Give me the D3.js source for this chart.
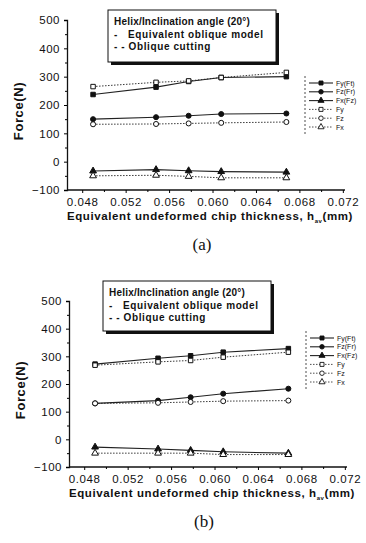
<!DOCTYPE html>
<html><head><meta charset="utf-8">
<script src="https://cdn.jsdelivr.net/npm/d3@7"></script>
<style>
html,body{margin:0;padding:0;background:#fff;}
svg{display:block;font-family:"Liberation Sans",Arial,sans-serif;}
</style></head>
<body>
<svg id="c" width="366" height="543"></svg>
<script>
// ---- data ----
const xValues = [0.049, 0.0548, 0.0578, 0.0608, 0.0668];
const seriesNames = ["Fy(Ft)", "Fz(Fr)", "Fx(Fz)", "Fy", "Fz", "Fx"];
const xTicks = [0.048, 0.052, 0.056, 0.060, 0.064, 0.068, 0.072];
const yTicks = [-100, 0, 100, 200, 300, 400, 500];
// panel (a)
const a_FyFt = [237, 263, 283, 297, 300];
const a_FzFr = [150, 157, 162, 168, 170];
const a_FxFz = [-33, -28, -32, -35, -37];
const a_Fy = [265, 280, 285, 297, 315];
const a_Fz = [132, 133, 135, 137, 140];
const a_Fx = [-50, -48, -52, -57, -57];
// panel (b)
const b_FyFt = [272, 293, 302, 315, 328];
const b_FzFr = [130, 140, 152, 165, 183];
const b_FxFz = [-28, -35, -40, -45, -50];
const b_Fy = [268, 280, 285, 297, 315];
const b_Fz = [130, 132, 135, 138, 140];
const b_Fx = [-50, -50, -50, -55, -55];

const legendTitle = "Helix/Inclination angle (20°)";
const legendLine1 = "-   Equivalent oblique model";
const legendLine2 = "- - Oblique cutting";
const xTitle = "Equivalent undeformed chip thickness, h";
const xTitleSub = "av";
const xTitleEnd = "(mm)";
const yTitle = "Force(N)";

const svg = d3.select("#c");
const markers = ["square", "circle", "triangle", "square", "circle", "triangle"];
const filled = [true, true, true, false, false, false];

function symbolPath(type, size) {
  const t = type === "square" ? d3.symbolSquare : type === "circle" ? d3.symbolCircle : d3.symbolTriangle;
  return d3.symbol().type(t).size(size)();
}

function drawPanel(cfg) {
  const g = svg.append("g");
  const x = d3.scaleLinear().domain([0.0466, 0.0722]).range([cfg.left, cfg.right]);
  const y = d3.scaleLinear().domain([-100, 500]).range([cfg.bottom, cfg.top]);

  const yAxis = d3.axisLeft(y).tickValues(yTicks).tickSize(3).tickFormat(d3.format("d"));
  const yg = g.append("g").attr("transform", `translate(${cfg.left},0)`).call(yAxis);
  yg.select(".domain").attr("stroke", "#111").attr("stroke-width", 1.3);
  yg.selectAll("text").attr("font-size", 11.5).attr("fill", "#111").attr("dx", -1).style("letter-spacing", "0.5px");
  g.append("g").attr("transform", `translate(${cfg.left},0)`)
    .call(d3.axisLeft(y).tickValues(d3.range(-50, 500, 100)).tickSize(2).tickFormat(""))
    .select(".domain").remove();

  const xAxis = d3.axisBottom(x).tickValues(xTicks).tickSize(3).tickFormat(d3.format(".3f"));
  const xg = g.append("g").attr("transform", `translate(0,${cfg.bottom})`).call(xAxis);
  xg.select(".domain").attr("stroke", "#111").attr("stroke-width", 1.3).attr("d", `M${cfg.left},0H${cfg.right}`);
  xg.selectAll("text").attr("font-size", 11.5).attr("fill", "#111").attr("dy", "0.9em").style("letter-spacing", "0.6px");
  g.append("g").attr("transform", `translate(0,${cfg.bottom})`)
    .call(d3.axisBottom(x).tickValues(d3.range(0.050, 0.071, 0.004)).tickSize(2).tickFormat(""))
    .select(".domain").remove();

  const xt = g.append("text").attr("x", (cfg.left + cfg.right) / 2 + 4).attr("y", cfg.bottom + 30)
    .attr("text-anchor", "middle").attr("font-size", 11.5).attr("font-weight", "bold").attr("fill", "#111")
    .style("letter-spacing", "0.6px");
  xt.append("tspan").text(xTitle);
  xt.append("tspan").text(xTitleSub).attr("font-size", 6).attr("dy", 3);
  xt.append("tspan").text(xTitleEnd).attr("dy", -3);

  g.append("text").attr("transform", `translate(${cfg.left - 44},${(cfg.top + cfg.bottom) / 2 + 6}) rotate(-90)`)
    .attr("text-anchor", "middle").attr("font-size", 13).attr("font-weight", "bold").attr("fill", "#111")
    .style("letter-spacing", "0.6px").text(yTitle);

  cfg.series.forEach((vals, i) => {
    const line = d3.line().x((d, j) => x(xValues[j])).y(d => y(d));
    g.append("path").datum(vals).attr("d", line).attr("fill", "none").attr("stroke", "#222")
      .attr("stroke-width", filled[i] ? 1.1 : 0.9).attr("stroke-dasharray", filled[i] ? null : "1.5,1.5");
    g.selectAll(null).data(vals).enter().append("path")
      .attr("d", symbolPath(markers[i], 20))
      .attr("transform", (d, j) => `translate(${x(xValues[j])},${y(d)})`)
      .attr("fill", filled[i] ? "#111" : "#fff").attr("stroke", "#111").attr("stroke-width", 1);
  });

  const bx = cfg.box;
  g.append("rect").attr("x", bx.x + 3).attr("y", bx.y + 3).attr("width", bx.w).attr("height", bx.h).attr("fill", "#111");
  g.append("rect").attr("x", bx.x).attr("y", bx.y).attr("width", bx.w).attr("height", bx.h).attr("fill", "#fff")
    .attr("stroke", "#111").attr("stroke-width", 1);
  const lt = [legendTitle, legendLine1, legendLine2];
  lt.forEach((t, i) => {
    g.append("text").attr("x", bx.x + 6).attr("y", bx.y + 15 + i * 12.5).attr("font-size", 10)
      .attr("font-weight", "bold").attr("fill", "#111").style("letter-spacing", i === 0 ? "0.2px" : "0.6px")
      .attr("xml:space", "preserve").text(t);
  });

  const lg = cfg.leg;
  g.append("line").attr("x1", lg.x).attr("x2", lg.x).attr("y1", lg.y).attr("y2", lg.y + 58)
    .attr("stroke", "#222").attr("stroke-width", 0.8).attr("stroke-dasharray", "2,2");
  seriesNames.forEach((name, i) => {
    const yy = lg.y + 7 + i * 8.8;
    g.append("line").attr("x1", lg.x + 4).attr("x2", lg.x + 28).attr("y1", yy).attr("y2", yy)
      .attr("stroke", "#222").attr("stroke-width", filled[i] ? 1.1 : 0.8).attr("stroke-dasharray", filled[i] ? null : "1.5,1.5");
    g.append("path").attr("d", symbolPath(markers[i], 16)).attr("transform", `translate(${lg.x + 16},${yy})`)
      .attr("fill", filled[i] ? "#111" : "#fff").attr("stroke", "#111").attr("stroke-width", 0.9);
    g.append("text").attr("x", lg.x + 31).attr("y", yy + 2.5).attr("font-size", 7).attr("fill", "#111").text(name);
  });

  g.append("text").attr("x", (cfg.left + cfg.right) / 2 - 4).attr("y", cfg.bottom + 60).attr("text-anchor", "middle")
    .attr("font-family", "Liberation Serif, Times New Roman, serif").attr("font-size", 17).attr("fill", "#111").text(cfg.caption);
}

drawPanel({left: 67, right: 345, top: 20, bottom: 190,
  series: [a_FyFt, a_FzFr, a_FxFz, a_Fy, a_Fz, a_Fx],
  box: {x: 108, y: 10, w: 168, h: 52}, leg: {x: 305, y: 76}, caption: "(a)"});
drawPanel({left: 69, right: 347, top: 301, bottom: 467,
  series: [b_FyFt, b_FzFr, b_FxFz, b_Fy, b_Fz, b_Fx],
  box: {x: 103, y: 281, w: 168, h: 50}, leg: {x: 306, y: 331}, caption: "(b)"});
</script>
</body></html>
